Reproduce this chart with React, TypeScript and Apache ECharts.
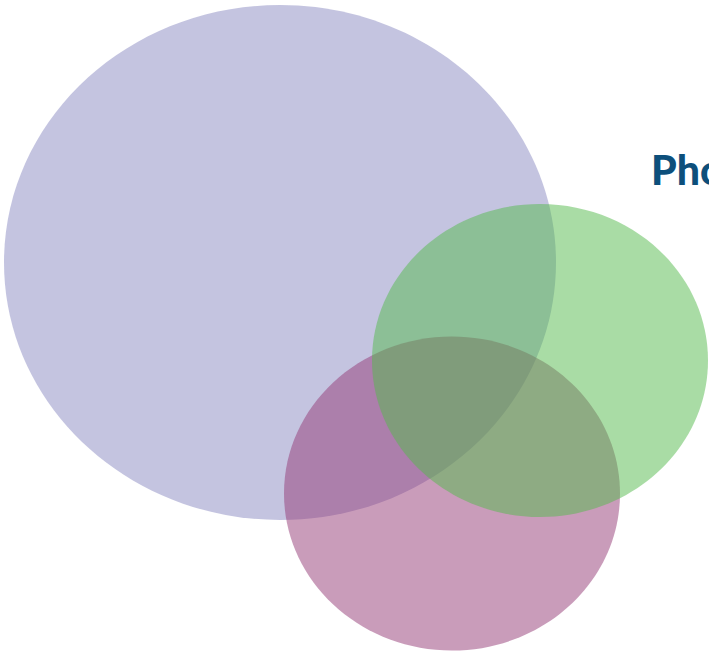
import React, { useEffect, useRef } from "react";
import * as echarts from "echarts";

// Venn sets (data units on a 0..709 x 0..653 plane)
const setNames = ["Set A", "Set C", "Set B"];
const centerX = [280, 452, 540];
const centerY = [262.5, 493.5, 360.5];
const radiusX = [276, 168, 168];
const radiusY = [257.5, 157, 156.5];
const setColors = [
  "rgba(137,137,193,0.5)",
  "rgba(147,57,117,0.5)",
  "rgba(83,185,75,0.5)",
];
const titleText = "Photos";

export default function App() {
  const ref = useRef<HTMLDivElement>(null);
  useEffect(() => {
    if (!ref.current) return;
    const chart = echarts.init(ref.current, null, { renderer: "svg" });
    const data = setNames.map((n, i) => ({
      name: n,
      value: [centerX[i], centerY[i], radiusX[i], radiusY[i]],
      itemStyle: { color: setColors[i] },
    }));
    chart.setOption({
      animation: false,
      backgroundColor: "#ffffff",
      title: {
        text: titleText,
        left: 646,
        top: 144,
        padding: 5,
        textStyle: {
          fontFamily: "Lato",
          fontWeight: 900,
          fontSize: 41,
          color: "#0d4f7b",
        },
      },
      grid: { left: 0, right: 0, top: 0, bottom: 0 },
      xAxis: { type: "value", min: 0, max: 709, show: false },
      yAxis: { type: "value", min: 0, max: 653, inverse: true, show: false },
      series: [
        {
          type: "custom",
          data,
          renderItem: (params: any, api: any) => {
            const c = api.coord([api.value(0), api.value(1)]);
            const s = api.size([api.value(2), api.value(3)]);
            return {
              type: "ellipse",
              shape: { cx: c[0], cy: c[1], rx: s[0], ry: s[1] },
              style: { fill: setColors[params.dataIndex] },
            };
          },
        },
      ],
    });
    return () => chart.dispose();
  }, []);
  return (
    <div
      ref={ref}
      style={{ position: "absolute", left: 0, top: 0, width: 709, height: 653 }}
    />
  );
}
